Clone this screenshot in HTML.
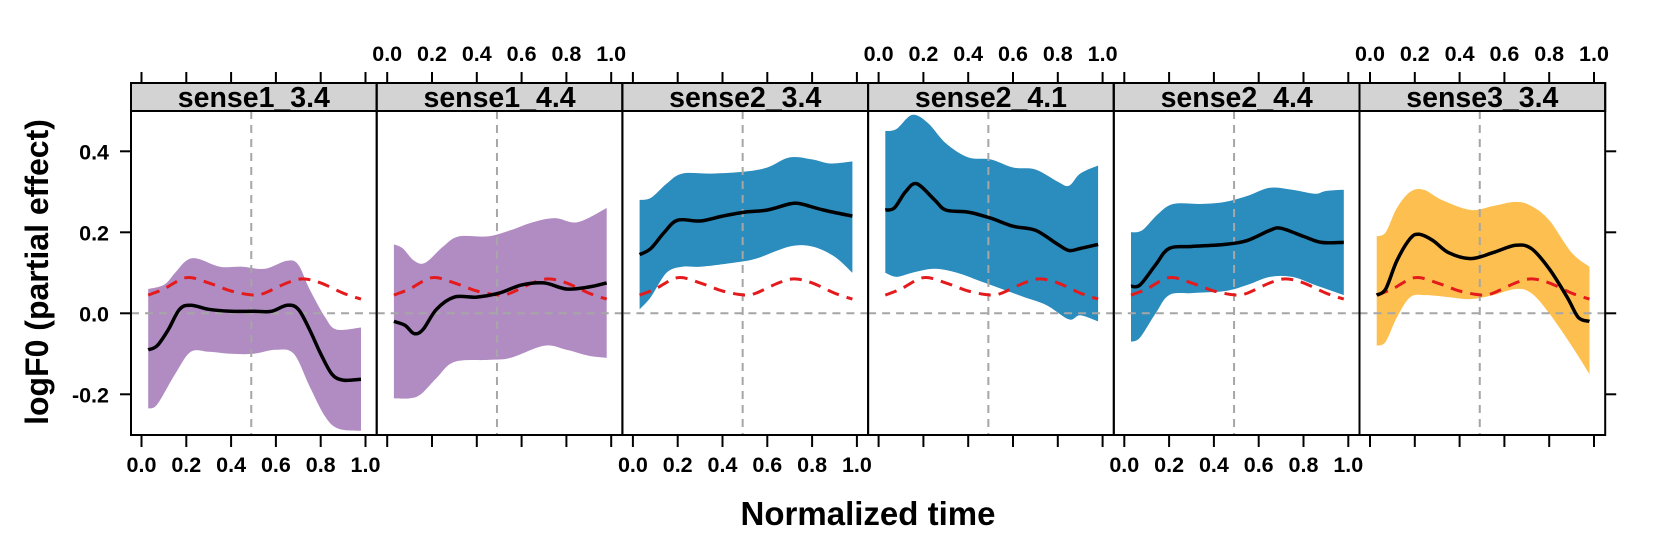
<!DOCTYPE html>
<html><head><meta charset="utf-8"><style>
html,body{margin:0;padding:0;background:#fff}
svg{display:block}
text{font-family:"Liberation Sans",sans-serif;font-weight:bold}
</style></head><body>
<svg id="s" width="1661" height="554" xmlns="http://www.w3.org/2000/svg">
<text x="868" y="525" font-size="33" text-anchor="middle">Normalized time</text>
<text transform="translate(48,272) rotate(-90)" font-size="32" text-anchor="middle">logF0 (partial effect)</text>
</svg>
<script>
var s=document.getElementById('s'),NS='http://www.w3.org/2000/svg';
function el(t,a,txt){var e=document.createElementNS(NS,t);for(var k in a)e.setAttribute(k,a[k]);if(txt!=null)e.textContent=txt;s.appendChild(e);return e;}
var W=245.7,L0=131,T=111,B=435;
function Y(v){return 313.3-405*v;}
function X(i,t){return L0+i*W+10.5+t*224;}
function path(i,pts){var p=pts.map(function(q){return [X(i,q[0]),Y(q[1])];});
 var d='M'+p[0][0].toFixed(1)+','+p[0][1].toFixed(1);
 for(var k=0;k<p.length-1;k++){var p0=p[k-1]||p[k],p1=p[k],p2=p[k+1],p3=p[k+2]||p2;
  d+=' C'+(p1[0]+(p2[0]-p0[0])/6).toFixed(1)+','+(p1[1]+(p2[1]-p0[1])/6).toFixed(1)+' '+(p2[0]-(p3[0]-p1[0])/6).toFixed(1)+','+(p2[1]-(p3[1]-p1[1])/6).toFixed(1)+' '+p2[0].toFixed(1)+','+p2[1].toFixed(1);}
 return d;}
function rev(a){return a.slice().reverse();}
var red=[[.03,.045],[.1,.06],[.2,.088],[.3,.075],[.4,.055],[.5,.045],[.55,.05],[.65,.075],[.72,.085],[.8,.075],[.9,.05],[.98,.035]];
var P=[
{n:'sense1_3.4',c:'#b08cc2',
m:[[.03,-.09],[.07,-.08],[.12,-.04],[.17,.01],[.22,.02],[.3,.01],[.4,.005],[.5,.005],[.58,.005],[.65,.02],[.7,.01],[.75,-.04],[.8,-.1],[.85,-.15],[.9,-.165],[.98,-.163]],
u:[[.03,.06],[.1,.07],[.15,.1],[.2,.13],[.25,.135],[.35,.115],[.45,.115],[.55,.11],[.65,.13],[.7,.12],[.75,.06],[.82,-.01],[.87,-.04],[.98,-.035]],
l:[[.03,-.235],[.07,-.225],[.15,-.15],[.22,-.095],[.3,-.095],[.4,-.1],[.5,-.1],[.6,-.09],[.68,-.1],[.75,-.18],[.82,-.255],[.88,-.285],[.98,-.29]]},
{n:'sense1_4.4',c:'#b08cc2',
m:[[.03,-.02],[.08,-.03],[.12,-.05],[.16,-.04],[.22,.01],[.3,.04],[.4,.04],[.5,.05],[.6,.07],[.7,.075],[.8,.06],[.9,.065],[.98,.075]],
u:[[.03,.17],[.07,.16],[.12,.13],[.17,.125],[.25,.165],[.32,.19],[.45,.19],[.55,.205],[.65,.225],[.75,.235],[.85,.225],[.98,.26]],
l:[[.03,-.21],[.1,-.21],[.15,-.2],[.22,-.16],[.3,-.12],[.45,-.115],[.55,-.11],[.7,-.08],[.8,-.09],[.9,-.105],[.98,-.11]]},
{n:'sense2_3.4',c:'#2b8cbe',
m:[[.03,.145],[.08,.16],[.14,.2],[.2,.23],[.3,.228],[.4,.24],[.5,.25],[.6,.255],[.7,.27],[.75,.27],[.85,.255],[.98,.24]],
u:[[.03,.28],[.08,.285],[.15,.32],[.22,.345],[.35,.345],[.5,.35],[.6,.36],[.7,.385],[.8,.38],[.88,.37],[.98,.375]],
l:[[.03,.01],[.08,.04],[.15,.1],[.22,.115],[.3,.115],[.45,.125],[.55,.135],[.7,.165],[.8,.165],[.9,.14],[.98,.1]]},
{n:'sense2_4.1',c:'#2b8cbe',
m:[[.03,.255],[.07,.26],[.12,.3],[.17,.32],[.25,.28],[.3,.255],[.4,.25],[.5,.235],[.6,.215],[.7,.205],[.8,.17],[.85,.155],[.9,.16],[.98,.17]],
u:[[.03,.45],[.08,.455],[.15,.49],[.22,.47],[.3,.42],[.4,.385],[.5,.38],[.6,.36],[.7,.355],[.8,.325],[.85,.315],[.9,.345],[.98,.365]],
l:[[.03,.1],[.08,.09],[.15,.1],[.25,.11],[.35,.1],[.45,.08],[.55,.06],[.65,.04],[.75,.02],[.85,-.015],[.9,-.005],[.98,-.02]]},
{n:'sense2_4.4',c:'#2b8cbe',
m:[[.03,.067],[.07,.07],[.14,.12],[.2,.16],[.3,.165],[.45,.17],[.55,.18],[.65,.205],[.7,.21],[.8,.19],[.88,.175],[.98,.175]],
u:[[.03,.2],[.08,.205],[.15,.245],[.22,.27],[.35,.27],[.45,.275],[.55,.29],[.65,.31],[.75,.305],[.85,.295],[.9,.302],[.98,.305]],
l:[[.03,-.07],[.07,-.06],[.14,0],[.2,.045],[.3,.05],[.45,.055],[.55,.07],[.65,.09],[.75,.09],[.85,.07],[.98,.045]]},
{n:'sense3_3.4',c:'#fdc050',
m:[[.03,.045],[.07,.06],[.12,.13],[.18,.185],[.22,.195],[.28,.18],[.35,.15],[.45,.135],[.55,.15],[.65,.168],[.72,.16],[.8,.11],[.88,.04],[.93,-.01],[.98,-.02]],
u:[[.03,.19],[.07,.2],[.12,.26],[.18,.3],[.24,.305],[.32,.28],[.45,.255],[.55,.265],[.65,.275],[.72,.265],[.8,.23],[.9,.15],[.98,.115]],
l:[[.03,-.08],[.07,-.07],[.12,-.01],[.18,.04],[.25,.045],[.35,.04],[.45,.035],[.55,.045],[.65,.06],[.72,.05],[.8,0],[.9,-.08],[.98,-.15]]}
];
var g='#a6a6a6';
P.forEach(function(p,i){
 var L=L0+i*W;
 var du=path(i,p.u), dl=path(i,rev(p.l));
 el('path',{d:du+' L'+dl.slice(1)+' Z',fill:p.c,stroke:'none'});
 el('line',{x1:L,x2:L+W,y1:Y(0),y2:Y(0),stroke:g,'stroke-width':2,'stroke-dasharray':'8,6'});
 el('line',{x1:X(i,.49),x2:X(i,.49),y1:T,y2:B,stroke:g,'stroke-width':2,'stroke-dasharray':'8,6'});
 el('path',{d:path(i,red),fill:'none',stroke:'#e41a1c','stroke-width':3,'stroke-dasharray':'12,8'});
 el('path',{d:path(i,p.m),fill:'none',stroke:'#000','stroke-width':3.5});
 el('rect',{x:L,y:83,width:W,height:28,fill:'#d3d3d3',stroke:'#000','stroke-width':2});
 el('text',{x:L+W/2,y:107,'font-size':28.5,'text-anchor':'middle'},p.n);
 el('rect',{x:L,y:83,width:W,height:B-83,fill:'none',stroke:'#000','stroke-width':2});
 for(var k=0;k<=5;k++){var x=X(i,k*.2);
  el('line',{x1:x,x2:x,y1:72,y2:83,stroke:'#000','stroke-width':2});
  el('line',{x1:x,x2:x,y1:B,y2:B+12,stroke:'#000','stroke-width':2});
  var lab=(k*.2).toFixed(1);
  if(i%2==0) el('text',{x:x,y:472,'font-size':21.5,'text-anchor':'middle'},lab);
  else el('text',{x:x,y:61,'font-size':21.5,'text-anchor':'middle'},lab);
 }
});
var R=L0+6*W;
[-0.2,0,0.2,0.4].forEach(function(v){var y=Y(v);
 el('line',{x1:L0-11,x2:L0,y1:y,y2:y,stroke:'#000','stroke-width':2});
 el('line',{x1:R,x2:R+11,y1:y,y2:y,stroke:'#000','stroke-width':2});
 el('text',{x:L0-22,y:y+8,'font-size':21.5,'text-anchor':'end'},v.toFixed(1));
});
</script>
</body></html>
